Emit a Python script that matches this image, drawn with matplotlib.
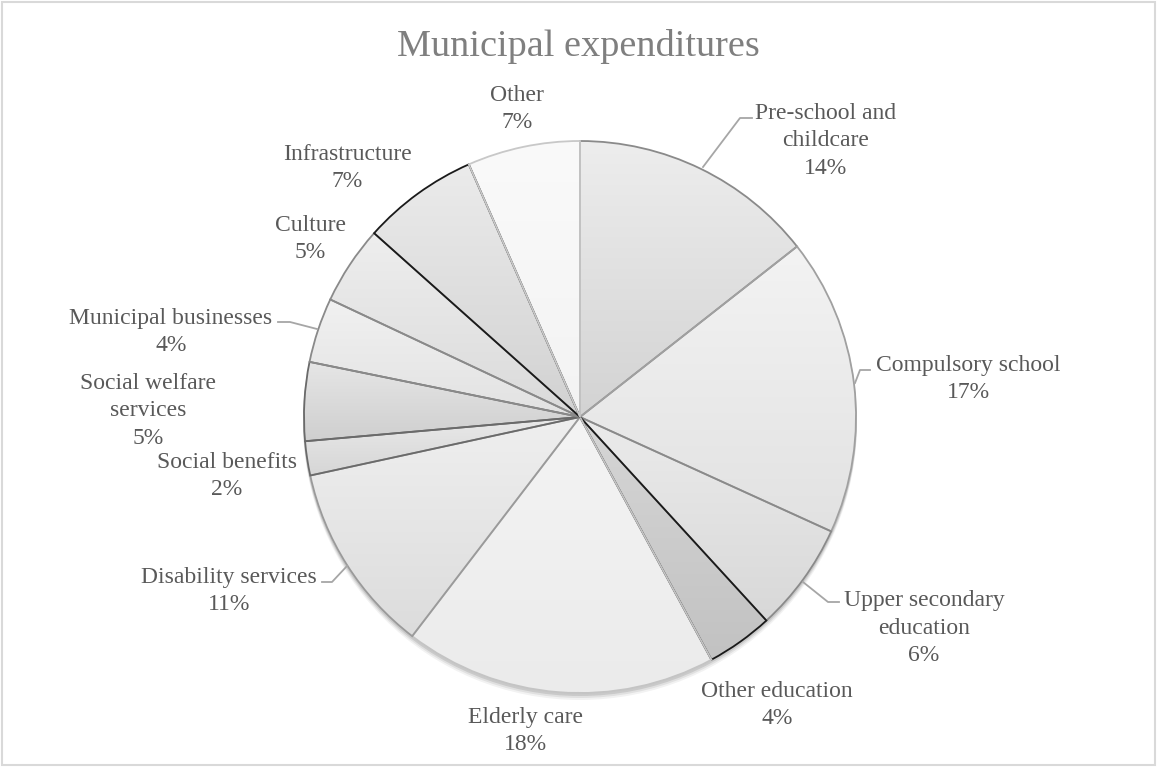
import numpy as np
import matplotlib
matplotlib.use("Agg")
import matplotlib.pyplot as plt
from matplotlib.colors import to_rgb

# data (shares in %, clockwise from 12 o'clock)
categories = ["Pre-school and\nchildcare", "Compulsory school", "Upper secondary\neducation",
              "Other education", "Elderly care", "Disability services", "Social benefits",
              "Social welfare\nservices", "Municipal businesses", "Culture", "Infrastructure", "Other"]
shares = [14.4, 17.4, 6.4, 3.9, 18.3, 11.2, 2.0, 4.6, 3.8, 4.6, 6.8, 6.6]

# styling (gradient top -> bottom, edge colour)
top_cols = ["#ededed", "#f3f3f3", "#ebebeb", "#d6d6d6", "#f4f4f4", "#efefef",
            "#e9e9e9", "#e6e6e6", "#f1f1f1", "#eeeeee", "#ebebeb", "#fafafa"]
bot_cols = ["#d3d3d3", "#e2e2e2", "#d8d8d8", "#c2c2c2", "#ebebeb", "#dcdcdc",
            "#d6d6d6", "#cfcfcf", "#e2e2e2", "#dadada", "#d2d2d2", "#f3f3f3"]
edge_cols = ["#8a8a8a", "#a0a0a0", "#8a8a8a", "#1a1a1a", "#c4c4c4", "#9a9a9a",
             "#6a6a6a", "#6a6a6a", "#8a8a8a", "#8a8a8a", "#1a1a1a", "#c8c8c8"]

# label centres (pixels) and leader lines
label_pos = [(826, 141), (968, 379), (924, 628), (777, 705), (525, 731), (229, 591),
             (227, 476), (148, 411), (171, 332), (310, 239), (347, 168), (517, 109)]
leaders = {0: [(703, 167), (740, 118), (752, 118)],
           1: [(855, 383), (860, 370), (870, 370)],
           2: [(803, 582), (828, 602), (839, 602)],
           5: [(347, 566), (332, 582), (322, 582)],
           8: [(317, 329), (290, 322), (278, 322)]}

W, H = 1157, 767
cx, cy, R = 580, 417, 276

fig = plt.figure(figsize=(W / 100, H / 100), dpi=100)
ax = fig.add_axes([0, 0, 1, 1])

# soft shadow under the pie
for k, a in zip([6, 4, 2], [0.05, 0.07, 0.10]):
    ax.add_patch(plt.Circle((cx, cy + k), R + 1, color="#000000", alpha=a, lw=0, zorder=0.5))

wedges, _ = ax.pie(shares, center=(cx, cy), radius=R, startangle=-90, counterclock=True,
                   wedgeprops=dict(linewidth=1.3))

for i, w in enumerate(wedges):
    ext = w.get_path().get_extents()
    n = 64
    t = np.linspace(0, 1, n)[:, None, None]
    c0 = np.array(to_rgb(top_cols[i]))[None, None, :]
    c1 = np.array(to_rgb(bot_cols[i]))[None, None, :]
    grad = c0 * (1 - t) + c1 * t
    im = ax.imshow(grad, extent=(ext.x0, ext.x1, ext.y1, ext.y0), origin="upper",
                   aspect="auto", interpolation="bilinear", zorder=1.5)
    im.set_clip_path(w)
    w.set_facecolor("none")
    w.set_edgecolor(edge_cols[i])
    w.set_zorder(3 + 0.01 * i)

total = sum(shares)
for i, name in enumerate(categories):
    pct = round(shares[i] / total * 100)
    x, y = label_pos[i]
    ax.text(x, y, f"{name}\n{pct}%", ha="center", va="center", multialignment="center",
            fontsize=17, family="Liberation Serif", color="#595959", linespacing=1.38, zorder=5)

for i, pts in leaders.items():
    xs, ys = zip(*pts)
    ax.plot(xs, ys, color="#a6a6a6", lw=1.3, zorder=4)

ax.text(578, 47, "Municipal expenditures", ha="center", va="center", fontsize=27.5,
        family="Liberation Serif", color="#7f7f7f")

# chart border
ax.add_patch(plt.Rectangle((2, 2), W - 4, H - 4, fill=False, edgecolor="#d9d9d9", lw=1.5))

ax.set_xlim(0, W)
ax.set_ylim(H, 0)
ax.set_aspect("auto")
ax.axis("off")

fig.savefig("out.png", dpi=100)
